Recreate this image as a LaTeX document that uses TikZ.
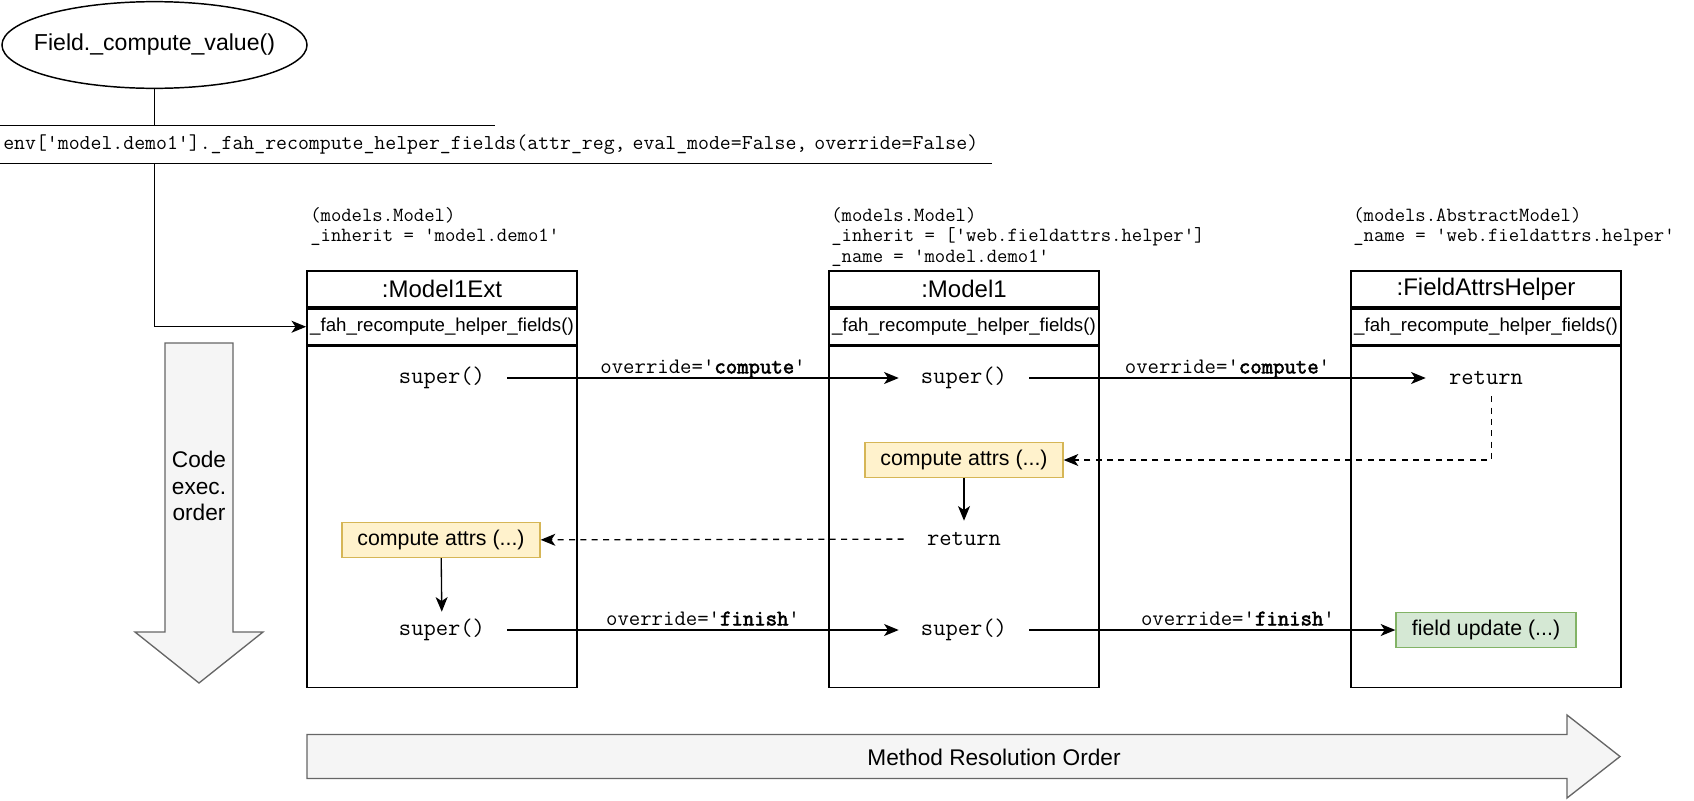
\documentclass[tikz,border=0pt]{standalone}
\usepackage{fontspec}
\setmainfont{Liberation Sans}
\setmonofont{Latin Modern Mono}[AutoFakeBold=2.5]
\usetikzlibrary{positioning}
\usetikzlibrary{shapes.geometric}
\usetikzlibrary{arrows.meta}

\definecolor{calcfill}{HTML}{FFF2CC}
\definecolor{calcdraw}{HTML}{D6B656}
\definecolor{updfill}{HTML}{D5E8D4}
\definecolor{upddraw}{HTML}{82B366}
\definecolor{bigfill}{HTML}{F5F5F5}
\definecolor{bigdraw}{HTML}{666666}

\tikzset{
  hdr/.style={draw, line width=1.3pt, minimum width=202.5pt, minimum height=27pt, inner sep=0pt, font=\fontsize{18}{21}\selectfont},
  meth/.style={hdr, font=\fontsize{14}{16}\selectfont},
  classbody/.style={draw, line width=1.3pt, minimum width=202.5pt, minimum height=255.75pt, inner sep=0pt},
  supcall/.style={minimum width=97.5pt, minimum height=27pt, inner sep=0pt, font=\ttfamily\fontsize{17.9}{20}\selectfont},
  retcall/.style={supcall, minimum width=90pt},
  calcbox/.style={draw=calcdraw, fill=calcfill, line width=1pt, minimum width=148.5pt, minimum height=26.25pt, inner sep=0pt, font=\fontsize{16}{19}\selectfont},
  updbox/.style={calcbox, draw=upddraw, fill=updfill, minimum width=135pt, minimum height=26pt},
  classnote/.style={anchor=north west, inner sep=0pt, align=left, font=\ttfamily\fontsize{15.1}{15.4}\selectfont},
  lbl/.style={midway, above, inner sep=0pt, text depth=0pt, yshift=3pt, font=\ttfamily\fontsize{16.6}{19}\selectfont},
  arr/.style={-{Stealth[length=11pt, width=9pt, inset=3pt]}, line width=1pt},
  darr/.style={arr, dash pattern=on 4.5pt off 4pt},
  bigarrow/.style={draw=bigdraw, fill=bigfill, line width=1pt}
}

\begin{document}
\begin{tikzpicture}[x=0.75pt, y=-0.75pt]

    \useasboundingbox (0,0) rectangle (1694,800);

    % entry point
    \node[minimum width=228.75pt, minimum height=65pt, inner sep=0pt, font=\fontsize{17.3}{20}\selectfont] (field) at (154.5,45) {Field.\_compute\_value()};
    \draw[line width=1.1pt] (field.center) ellipse [x radius=114.4pt, y radius=32.5pt];

    \node[anchor=west, minimum height=27.75pt, text width=738.75pt, inner xsep=2.25pt, inner ysep=0pt, align=left, font=\ttfamily\fontsize{15.9}{18}\selectfont] (env) at (0,144.5)
    {env['model.demo1'].\_fah\_recompute\_helper\_fields(attr\_reg, eval\_mode=False, override=False)};

    \draw[line width=1.1pt] (env.north west) -- ++(495,0);
    \draw[line width=1.1pt] (env.south west) -- (env.south east);
    \draw[line width=1.1pt] (field) -- (field |- env.north);

    % classes
    \path   (442,289) node (exth) [hdr] {:Model1Ext}
            (964,289) node (m1h) [hdr] {:Model1}
            (1486,289) node (fahh) [hdr] {:FieldAttrsHelper};

    \node (extm) [meth, below=0pt of exth] {\_fah\_recompute\_helper\_fields()};
    \node (m1m) [meth, below=0pt of m1h] {\_fah\_recompute\_helper\_fields()};
    \node (fahm) [meth, below=0pt of fahh] {\_fah\_recompute\_helper\_fields()};

    \node (extb) [classbody, below=0pt of extm] {};
    \node (m1b) [classbody, below=0pt of m1m] {};
    \node (fahb) [classbody, below=0pt of fahm] {};

    \node[classnote] (extnote) at (310,207) {(models.Model)\\\_inherit = 'model.demo1'};
    \node[classnote] (m1note) at (831,207) {(models.Model)\\\_inherit = ['web.fieldattrs.helper']\\\_name = 'model.demo1'};
    \node[classnote] (fahnote) at (1353,207) {(models.AbstractModel)\\\_name = 'web.fieldattrs.helper'};

    \draw[arr] (env.south -| field) |- (extm.west);

    % calls inside the methods
    \path   (442,378) node (exts1) [supcall] {super()}
            (964,378) node (m1s1) [supcall] {super()}
            (1486,378) node (fahr) [retcall] {return}
            (964,460) node (m1calc) [calcbox] {compute attrs (...)}
            (964,539) node (m1r) [retcall] {return}
            (441,540) node (extcalc) [calcbox] {compute attrs (...)}
            (442,630) node (exts2) [supcall] {super()}
            (964,630) node (m1s2) [supcall] {super()}
            (1486,630) node (fahupd) [updbox] {field update (...)};

    \draw[arr] (exts1) -- node[lbl] {override='\textbf{compute}'} (m1s1);
    \draw[arr] (m1s1) -- node[lbl] {override='\textbf{compute}'} (fahr);
    \draw[darr] ([xshift=4pt]fahr.south) |- (m1calc);
    \draw[arr] (m1calc) -- (m1r);
    \draw[darr] (m1r) -- (extcalc);
    \draw[arr] (extcalc) -- (exts2);
    \draw[arr] (exts2) -- node[lbl] {override='\textbf{finish}'} (m1s2);
    \draw[arr] (m1s2) -- node[lbl, pos=0.57] {override='\textbf{finish}'} (fahupd);

    % big arrows
    \draw[bigarrow] (165,343) -- (233,343) -- (233,632) -- (263,632) -- (199,683) -- (135,632) -- (165,632) -- cycle;
    \node[align=center, font=\fontsize{17}{20}\selectfont] (order) at (199,486) {Code\\exec.\\order};

    \draw[bigarrow] (307,734.5) -- (1567,734.5) -- (1567,715) -- (1620,756.5) -- (1567,798) -- (1567,778.5) -- (307,778.5) -- cycle;
    \node[font=\fontsize{17}{20}\selectfont] (mro) at (994,757) {Method Resolution Order};

\end{tikzpicture}
\end{document}
